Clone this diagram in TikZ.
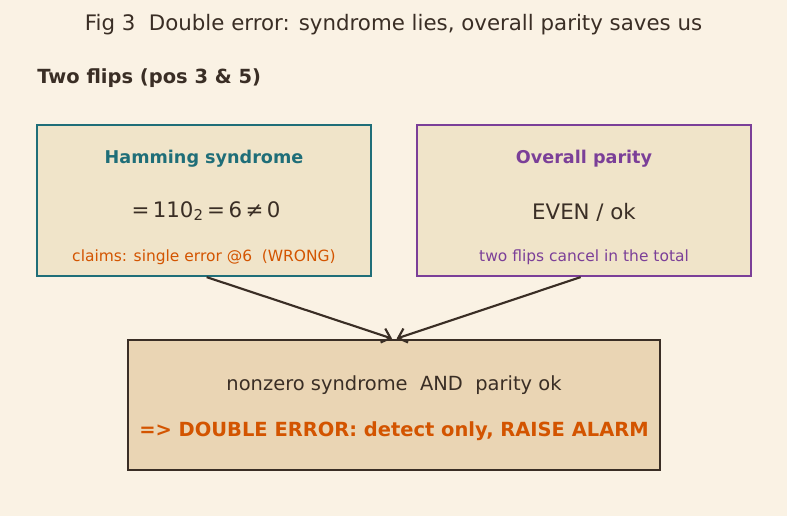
\documentclass[tikz,border=0pt]{standalone}
\usepackage{fontspec}
\setmainfont{DejaVu Sans}
\usetikzlibrary{arrows.meta}
\usetikzlibrary{positioning}

\definecolor{paper}{HTML}{FAF2E4}
\definecolor{ink}{HTML}{3A2E25}
\definecolor{teal}{HTML}{1F6E78}
\definecolor{plum}{HTML}{7B3F98}
\definecolor{rust}{HTML}{D35400}
\definecolor{boxfill}{HTML}{F0E4C9}
\definecolor{alarmfill}{HTML}{EAD5B4}

\newcommand{\gap}{\hspace{2.6pt}}

\begin{document}
\begin{tikzpicture}[
            x=0.75pt, y=-0.75pt,
            every node/.style={inner sep=0pt, text=ink},
            checkbox/.style={rectangle, draw, line width=1.7pt, fill=boxfill,
                minimum width=250.5pt, minimum height=113.25pt},
            alarmbox/.style={rectangle, draw=ink, line width=2.2pt, fill=alarmfill,
                minimum width=399pt, minimum height=97.5pt},
            heading/.style={font=\bfseries\fontsize{13.2}{15}\selectfont},
            note/.style={font=\fontsize{11.6}{13}\selectfont}
        ]
        \tikzset{>={Straight Barb[length=6pt,width=11pt]}}
        \useasboundingbox[fill=paper] (0,0) rectangle (787,516);
        % title and case
        \node (title) at (393.5,25) {\fontsize{16}{18}\selectfont Fig 3\ \ Double error: syndrome lies, overall parity saves us};
        \node[anchor=west] (case) at (37,78) {\bfseries\fontsize{14.6}{16}\selectfont Two flips (pos 3 \& 5)};
        % the two checks
        \node[checkbox, draw=teal] (hamming) at (204,200.5) {};
        \node[heading, text=teal] (hamming title) at (204,159) {Hamming syndrome};
        \node (hamming value) at (206,211) {\fontsize{16}{19}\selectfont =\gap110\textsubscript{2}\gap=\gap6\gap≠\gap0};
        \node[note, text=rust] (hamming note) at (204,257) {claims: single error @6\ \ (WRONG)};
        \node[checkbox, draw=plum] (parity) at (584,200.5) {};
        \node[heading, text=plum] (parity title) at (584,159) {Overall parity};
        \node (parity value) at (584,212) {\fontsize{16}{19}\selectfont EVEN / ok};
        \node[note, text=plum] (parity note) at (584,257) {two flips cancel in the total};
        % verdict
        \node[alarmbox] (alarm) at (394,405) {};
        \node (alarm cause) at (394,385) {\fontsize{14.6}{17}\selectfont nonzero syndrome\ \ AND\ \ parity ok};
        \node[text=rust] (alarm verdict) at (394,431) {\bfseries\fontsize{14.6}{17}\selectfont => DOUBLE ERROR: detect only, RAISE ALARM};
        \coordinate (in left) at ([xshift=-1.5pt]alarm.north);
        \coordinate (in right) at ([xshift=2pt]alarm.north);
        \draw[->, ink, line width=1.6pt] ([xshift=2pt]hamming.south) -- (in left);
        \draw[->, ink, line width=1.6pt] ([xshift=-2.5pt]parity.south) -- (in right);
    \end{tikzpicture}
\end{document}
